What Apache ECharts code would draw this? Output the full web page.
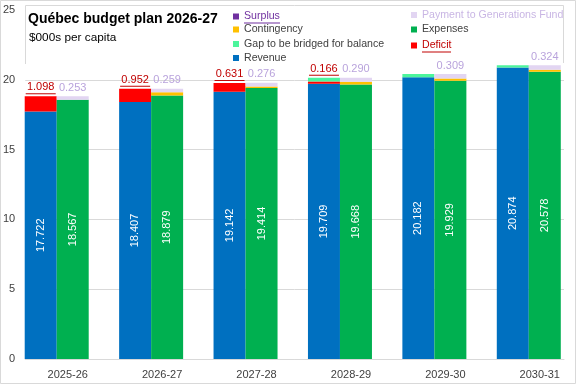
<!DOCTYPE html>
<html>
<head>
<meta charset="utf-8">
<script src="https://cdn.jsdelivr.net/npm/echarts@6/dist/echarts.min.js"></script>
<style>html,body{margin:0;padding:0;background:#fff}#c{width:576px;height:384px}</style>
</head>
<body>
<div id="c"></div>
<script>
var categories = ['2025-26','2026-27','2027-28','2028-29','2029-30','2030-31'];
var revenue = [17.722,18.407,19.142,19.709,20.182,20.874];
var deficit = [1.098,0.952,0.631,0.166,0,0];
var gap = [0,0,0,0.273,0.226,0.168];
var surplus = [0,0,0,0,0,0];
var expenses = [18.567,18.879,19.414,19.668,19.929,20.578];
var contingency = [0,0.221,0.1,0.19,0.17,0.14];
var generations = [0.253,0.259,0.276,0.290,0.309,0.324];

var FONT = 'Liberation Sans';
var LEG_FS = 10.6;
var chart = echarts.init(document.getElementById('c'), null, {renderer:'canvas'});

var ctx = document.createElement('canvas').getContext('2d');
function textW(s, fs){ ctx.font = fs + 'px "' + FONT + '"'; return Math.round(ctx.measureText(s).width); }
function fmt(v){ return v.toFixed(3); }

function legendItem(name, left, top, color, underline){
  var rich = {
    t:{fontFamily:FONT,fontSize:LEG_FS,color:color,lineHeight:13},
    u:{width:textW(name, LEG_FS),height:1,lineHeight:1,fontSize:1,backgroundColor:color}
  };
  return {
    data:[name], left:left, top:top + (underline ? 1 : 0), padding:0, orient:'vertical',
    icon:'rect', itemWidth:6, itemHeight:6, itemGap:0, selectedMode:false,
    textStyle:{fontFamily:FONT,fontSize:LEG_FS,color:color,rich:rich},
    formatter: underline ? function(n){ return '{t|'+n+'}\n{u|}'; } : function(n){ return '{t|'+n+'}'; }
  };
}

var option = {
  animation:false,
  backgroundColor:'#fff',
  textStyle:{fontFamily:FONT},
  title:[
    {text:'Québec budget plan 2026-27', left:28, top:11, padding:0,
     textStyle:{fontFamily:FONT,fontSize:14,fontWeight:'bold',color:'#000',lineHeight:17}},
    {text:'$000s per capita', left:29, top:31, padding:0,
     textStyle:{fontFamily:FONT,fontSize:11.8,fontWeight:'normal',color:'#000',lineHeight:13}}
  ],
  legend:[
    legendItem('Surplus',233,9.5,'#7030A0',true),
    legendItem('Contingency',233,24,'#404040',false),
    legendItem('Gap to be bridged for balance',233,38.5,'#404040',false),
    legendItem('Revenue',233,52.5,'#404040',false),
    legendItem('Payment to Generations Fund',411,9.5,'#C9B6E4',false),
    legendItem('Expenses',411,24,'#404040',false),
    legendItem('Deficit',411,38.5,'#C00000',true)
  ],
  grid:[
    {left:9.5, right:-2.5, top:10, bottom:25, containLabel:false},
    {left:25, right:12, top:10, bottom:25, containLabel:false}
  ],
  xAxis:[
    {type:'category', gridIndex:0, data:categories, axisLine:{show:false}, axisTick:{show:false},
     axisLabel:{fontFamily:FONT,fontSize:11,color:'#404040',margin:10,padding:[0,0,0,22]}},
    {type:'category', gridIndex:1, data:categories, axisLine:{show:true,lineStyle:{color:'#D9D9D9'}},
     axisTick:{show:false}, axisLabel:{show:false}}
  ],
  yAxis:[
    {type:'value', gridIndex:0, min:0, max:25, interval:5, axisLabel:{show:false}, splitLine:{show:false},
     axisLine:{show:false}, axisTick:{show:false}},
    {type:'value', gridIndex:1, min:0, max:25, interval:5,
     axisLabel:{fontFamily:FONT,fontSize:11,color:'#404040',margin:10},
     splitLine:{lineStyle:{color:'#D9D9D9'}}, axisLine:{show:false}, axisTick:{show:false}}
  ],
  series:[
    {name:'Revenue', type:'bar', stack:'rev', data:revenue, barWidth:32, barGap:'0%',
     itemStyle:{color:'#0070C0'},
     label:{show:true, position:'inside', rotate:90, color:'#fff', fontFamily:FONT, fontSize:11, formatter:function(p){return fmt(p.value);}}},
    {name:'Deficit', type:'bar', stack:'rev', data:deficit, barWidth:32, itemStyle:{color:'#FF0000'}},
    {name:'Gap to be bridged for balance', type:'bar', stack:'rev', data:gap, barWidth:32, itemStyle:{color:'#4CF59C'}},
    {name:'Surplus', type:'bar', stack:'rev', data:surplus, barWidth:32, itemStyle:{color:'#7030A0'},
     label:{show:true, position:'top', distance:2,
       formatter:function(p){ var d=deficit[p.dataIndex]; return d>0 ? '{v|'+fmt(d)+'}\n{u|}' : ''; },
       rich:{v:{fontFamily:FONT,fontSize:11,color:'#C00000',lineHeight:12},
             u:{width:30,height:1,lineHeight:1,fontSize:1,backgroundColor:'#C00000'}}}},
    {name:'Expenses', type:'bar', stack:'exp', data:expenses, barWidth:32, itemStyle:{color:'#00B050'},
     label:{show:true, position:'inside', rotate:90, color:'#fff', fontFamily:FONT, fontSize:11, formatter:function(p){return fmt(p.value);}}},
    {name:'Contingency', type:'bar', stack:'exp', data:contingency, barWidth:32, itemStyle:{color:'#FFC000'}},
    {name:'Payment to Generations Fund', type:'bar', stack:'exp', data:generations, barWidth:32, itemStyle:{color:'#E2D5F2'},
     label:{show:true, position:'top', distance:3, fontFamily:FONT, fontSize:11, color:'#B9A3DC',
       formatter:function(p){return fmt(p.value);}}}
  ],
  graphic:[
    {type:'rect', z:1, shape:{x:26,y:6,width:537,height:58}, style:{fill:'#fff',stroke:null}, silent:true},
    {type:'polyline', z:1, shape:{points:[[25.5,64],[25.5,5.5],[563.5,5.5],[563.5,63]]}, style:{fill:null,stroke:'#D9D9D9',lineWidth:1}, silent:true},
    {type:'rect', shape:{x:0.5,y:0.5,width:575,height:383}, style:{fill:'none',stroke:'#D9D9D9',lineWidth:1}, silent:true}
  ]
};
chart.setOption(option);
</script>
</body>
</html>
